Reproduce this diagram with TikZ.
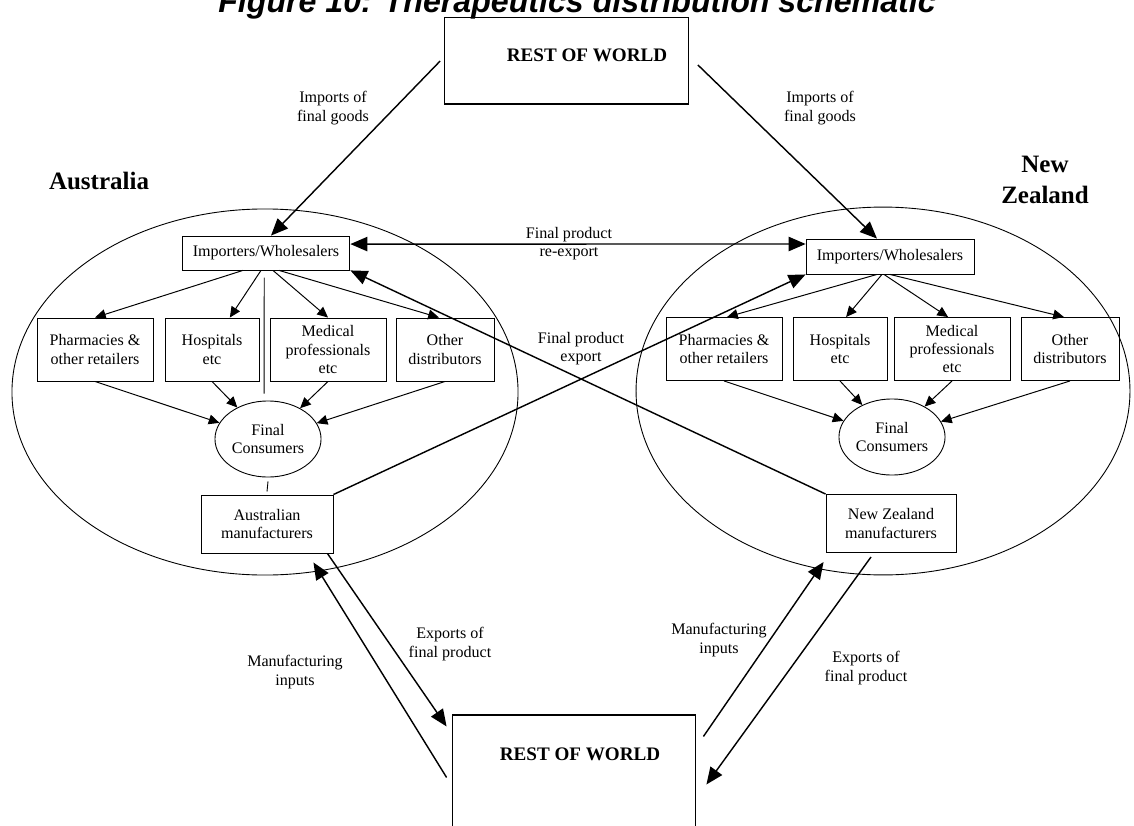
\documentclass[tikz,border=0pt]{standalone}
\usepackage{fontspec}
\setmainfont{Liberation Serif}
\newfontfamily\titlefont{Liberation Sans}
\usepackage{tikz}
\usetikzlibrary{arrows.meta, calc, shapes.geometric}

\begin{document}
\begin{tikzpicture}[
    x=0.56pt, y=-0.56pt,
    txt/.style={font=\fontsize{9}{10.2}\selectfont, align=center, inner sep=0pt},
    box/.style={draw, line width=0.5pt, inner sep=1pt, align=center,
        font=\fontsize{9}{10.2}\selectfont},
    impbox/.style={box, minimum width=94pt, minimum height=19pt},
    outlet/.style={box, minimum height=35.3pt},
    consumer/.style={draw, ellipse, line width=0.5pt, inner sep=0pt, align=center,
        minimum width=59.4pt, minimum height=42.6pt, font=\fontsize{9}{10.2}\selectfont},
    makerbox/.style={box, minimum height=32.5pt},
    worldbox/.style={draw, line width=0.6pt, minimum width=136.5pt},
    worldtxt/.style={anchor=base, font=\fontsize{10.7}{12}\selectfont\bfseries},
    region/.style={draw, ellipse, line width=0.5pt, inner sep=0pt},
    country/.style={font=\fontsize{14}{17.4}\selectfont\bfseries, align=center},
    flow/.style={-{Triangle[length=6pt, width=5.5pt]}, line width=0.55pt},
    trade/.style={-{Triangle[length=9.5pt, width=8pt]}, line width=0.8pt},
    tradeboth/.style={{Triangle[length=9.5pt, width=8pt]}-{Triangle[length=9.5pt, width=8pt]},
        line width=0.8pt}
]
\useasboundingbox (0,0) rectangle (1134,825);
\node[anchor=base, font=\titlefont\bfseries\itshape\fontsize{18}{20}\selectfont] (title)
    at (577,13) {Figure 10: Therapeutics distribution schematic};

% rest of world
\node[worldbox, minimum height=48.2pt] (rowtop) at (566.5,61) {};
\node[worldtxt] (rowtoptxt) at (587,62) {REST OF WORLD};
\node[worldbox, minimum height=67.2pt] (rowbot) at (574,775) {};
\node[worldtxt] (rowbottxt) at (580,760) {REST OF WORLD};

% countries
\node[region, minimum width=283.4pt, minimum height=205pt] (ausreg) at (265,392) {};
\node[region, minimum width=276.6pt, minimum height=206pt] (nzreg) at (883,391) {};
\node[country, anchor=base] (auslbl) at (99,190) {Australia};
\node[country] (nzlbl) at (1045,180) {New\\Zealand};

% Australia
\node[impbox] (ausimp) at (266,253) {Importers/Wholesalers};
\node[outlet, minimum width=65pt] (auspharm) at (95,349.5) {Pharmacies \&\\other retailers};
\node[outlet, minimum width=52.6pt] (aushosp) at (212,349.5) {Hospitals\\etc};
\node[outlet, minimum width=65pt] (ausmed) at (328,349.5) {Medical\\professionals\\etc};
\node[outlet, minimum width=54.9pt] (ausother) at (445,349.5) {Other\\distributors};
\node[consumer] (auscons) at (268,439) {Final\\Consumers};
\node[makerbox, minimum width=73.9pt] (ausman) at (267,524) {Australian\\manufacturers};

% New Zealand
\node[impbox, minimum height=19.6pt] (nzimp) at (890,256.5) {Importers/Wholesalers};
\node[outlet, minimum width=65pt] (nzpharm) at (724,349) {Pharmacies \&\\other retailers};
\node[outlet, minimum width=52.6pt] (nzhosp) at (840,349) {Hospitals\\etc};
\node[outlet, minimum width=65pt] (nzmed) at (952,349) {Medical\\professionals\\etc};
\node[outlet, minimum width=54.9pt] (nzother) at (1070,349) {Other\\distributors};
\node[consumer] (nzcons) at (892,437) {Final\\Consumers};
\node[makerbox, minimum width=72.8pt] (nzman) at (891,523.5) {New Zealand\\manufacturers};

% labels
\node[txt] (impausl) at (333,108) {Imports of\\final goods};
\node[txt] (impnzl) at (820,108) {Imports of\\final goods};
\node[txt] (reexl) at (569,244) {Final product\\re-export};
\node[txt] (exl) at (581,349) {Final product\\export};
\node[txt] (ausinl) at (295,672) {Manufacturing\\inputs};
\node[txt] (ausexl) at (450,644) {Exports of\\final product};
\node[txt] (nzinl) at (719,640) {Manufacturing\\inputs};
\node[txt] (nzexl) at (866,668) {Exports of\\final product};

% imports and trade between countries
\draw[trade] ([xshift=-2.2pt]rowtop.west) -- ([xshift=2.8pt]ausimp.north);
\draw[trade] ([xshift=5pt, yshift=-2.2pt]rowtop.east) -- ([xshift=-7.3pt]nzimp.north);
\draw[tradeboth] ([yshift=5pt]ausimp.east) -- ([yshift=7pt]nzimp.west);
\draw[trade] (ausman.north east) -- (nzimp.south west);
\draw[trade] (nzman.north west) -- (ausimp.south east);

% distribution in Australia
\draw[flow] ([xshift=-12.9pt]ausimp.south) -- (auspharm.north);
\draw[flow] ([xshift=-2.8pt]ausimp.south) -- ([xshift=10pt]aushosp.north);
\draw[flow] ([xshift=3.9pt]ausimp.south) -- (ausmed.north);
\draw[flow] ([xshift=7.3pt]ausimp.south) -- ([xshift=-3.4pt]ausother.north);
\draw[flow] (auspharm.south) -- (auscons);
\draw[flow] (aushosp.south) -- (auscons);
\draw[flow] (ausmed.south) -- (auscons);
\draw[flow] (ausother.south) -- (auscons);
\draw[line width=0.5pt] ([xshift=-1pt, yshift=-4pt]ausimp.south) -- ([xshift=-2.2pt, yshift=3.9pt]auscons.north);
\draw[line width=0.5pt] ([yshift=-2.2pt]auscons.south) -- ([yshift=1.7pt]ausman.north);

% distribution in New Zealand
\draw[flow] ([xshift=-7.3pt]nzimp.south) -- ([xshift=1.7pt]nzpharm.north);
\draw[flow] ([xshift=-4.5pt]nzimp.south) -- ([xshift=3.4pt]nzhosp.north);
\draw[flow] ([xshift=-3.4pt]nzimp.south) -- ([xshift=-2.2pt]nzmed.north);
\draw[flow] (nzimp.south) -- ([xshift=-3.4pt]nzother.north);
\draw[flow] (nzpharm.south) -- (nzcons);
\draw[flow] (nzhosp.south) -- (nzcons);
\draw[flow] (nzmed.south) -- (nzcons);
\draw[flow] (nzother.south) -- (nzcons);

% manufacturing trade
\draw[trade] ($(rowbot.north west)+(-5,63)$) -- ($(ausman.south east)+(-20,9)$);
\draw[trade] ($(ausman.south east)+(-6,0)$) -- ($(rowbot.north west)+(-5,12)$);
\draw[trade] ($(rowbot.north east)+(7,22)$) -- ($(nzman.south west)+(-2,9)$);
\draw[trade] ($(nzman.south)+(-20,4)$) -- ($(rowbot.north east)+(10,70)$);
\end{tikzpicture}
\end{document}
